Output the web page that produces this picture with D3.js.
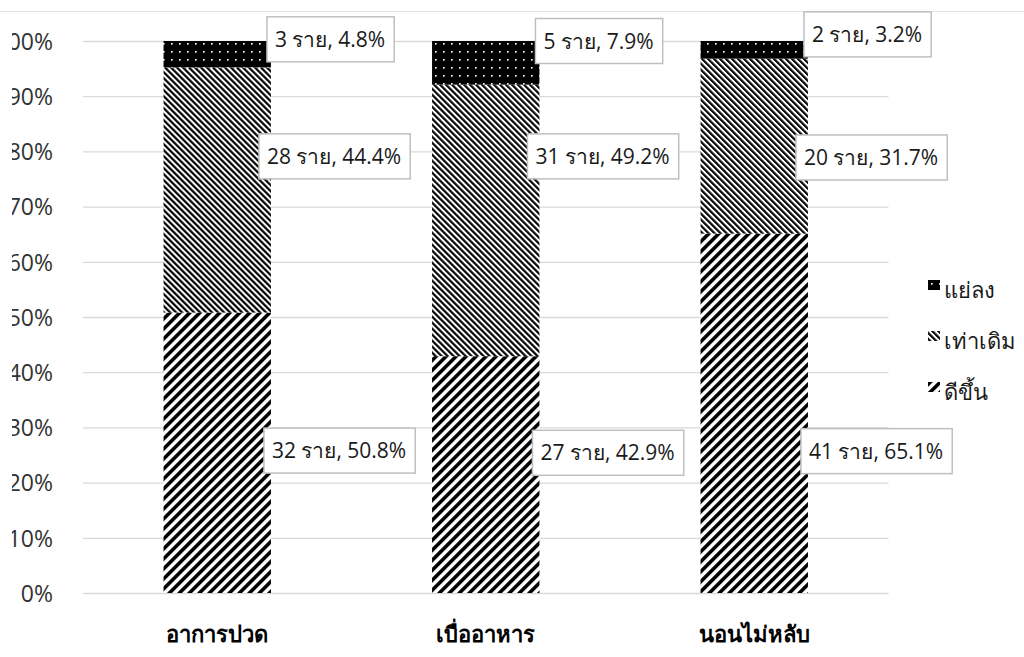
<!DOCTYPE html>
<html><head><meta charset="utf-8">
<script src="https://cdn.jsdelivr.net/npm/d3@7"></script>
<style>body{margin:0;background:#fff} svg{display:block}</style>
</head><body><svg id="c" width="1024" height="657"></svg>
<script>
// ---- data ----
const categories = ["อาการปวด", "เบื่ออาหาร", "นอนไม่หลับ"];
const seriesNames = ["ดีขึ้น", "เท่าเดิม", "แย่ลง"];
const betterCount = [32, 27, 41];
const betterPct = [50.8, 42.9, 65.1];
const sameCount = [28, 31, 20];
const samePct = [44.4, 49.2, 31.7];
const worseCount = [3, 5, 2];
const worsePct = [4.8, 7.9, 3.2];
const yTicks = [0, 10, 20, 30, 40, 50, 60, 70, 80, 90, 100];
const unitWord = "ราย";
// label anchor values (in % units, where each label box is centred)
const anchorBetter = [25.8, 25.4, 25.7];
const anchorSame = [79.1, 79.1, 78.9];
const anchorWorse = [100.3, 100.0, 101.2];

// ---- layout ----
const W = 1024, H = 657;
const plotL = 83, plotR = 888.5, plotT = 41, plotB = 593;
const FONT = "'Open Sans','Noto Sans','DejaVu Sans',sans-serif";

const svg = d3.select("#c");
const defs = svg.append("defs");

// patterns
function stripe(id, angle, period, thick) {
  const p = defs.append("pattern").attr("id", id).attr("patternUnits", "userSpaceOnUse")
    .attr("width", period).attr("height", period).attr("patternTransform", `rotate(${angle})`);
  p.append("rect").attr("width", period).attr("height", period).attr("fill", "#fff");
  p.append("rect").attr("width", thick).attr("height", period).attr("fill", "#000");
}
stripe("pBetter", 45, 7.07, 3.6);
stripe("pSame", -45, 4.24, 2.2);
const pd = defs.append("pattern").attr("id", "pWorse").attr("patternUnits", "userSpaceOnUse")
  .attr("width", 8).attr("height", 8);
pd.append("rect").attr("width", 8).attr("height", 8).attr("fill", "#000");
pd.append("rect").attr("x", 3).attr("y", 3).attr("width", 1.6).attr("height", 1.6).attr("fill", "#fff");

defs.append("clipPath").attr("id", "axClip").append("rect")
  .attr("x", 12).attr("y", 0).attr("width", W).attr("height", H);

const fills = ["url(#pBetter)", "url(#pSame)", "url(#pWorse)"];

// top frame line
svg.append("line").attr("x1", 0).attr("x2", W).attr("y1", 11.5).attr("y2", 11.5)
  .attr("stroke", "#e3e3e3").attr("stroke-width", 1);

const x = d3.scaleBand().domain(categories).range([plotL, plotR]).paddingInner(0.6).paddingOuter(0.3);
const y = d3.scaleLinear().domain([0, 100]).range([plotB, plotT]);

// gridlines
const grid = svg.append("g").attr("transform", `translate(${plotL},0)`)
  .call(d3.axisLeft(y).tickValues(yTicks).tickSize(-(plotR - plotL)).tickFormat(""));
grid.select(".domain").remove();
grid.selectAll("line").attr("stroke", "#d9d9d9").attr("stroke-width", 1.3);

// y labels
const yax = svg.append("g").attr("clip-path", "url(#axClip)").append("g")
  .attr("transform", `translate(${plotL},0)`)
  .call(d3.axisLeft(y).tickValues(yTicks).tickSize(0).tickPadding(30).tickFormat(d => d + "%"));
yax.select(".domain").remove();
yax.selectAll("text").attr("font-family", FONT).attr("font-size", 23).attr("fill", "#333")
  .attr("dy", "0.36em");

// stacked data
const tbl = categories.map((c, i) => ({
  cat: c,
  [seriesNames[0]]: betterPct[i], [seriesNames[1]]: samePct[i], [seriesNames[2]]: worsePct[i]
}));
const stack = d3.stack().keys(seriesNames)(tbl);
const counts = [betterCount, sameCount, worseCount];
const pcts = [betterPct, samePct, worsePct];
const anchors = [anchorBetter, anchorSame, anchorWorse];
const labelDx = [-7, -12, -4];

const bars = svg.append("g");
stack.forEach((s, si) => {
  bars.selectAll(null).data(s).enter().append("rect")
    .attr("x", d => x(d.data.cat))
    .attr("width", x.bandwidth())
    .attr("y", d => y(d[1]))
    .attr("height", d => y(d[0]) - y(d[1]))
    .attr("fill", fills[si]);
});

// data labels
const lab = svg.append("g");
stack.forEach((s, si) => {
  s.forEach((d, ci) => {
    const txt = `${counts[si][ci]} ${unitWord}, ${pcts[si][ci].toFixed(1)}%`;
    const g = lab.append("g");
    const left = x(d.data.cat) + x.bandwidth() + labelDx[si];
    const cy = y(anchors[si][ci]);
    const rect = g.append("rect").attr("fill", "#fff").attr("stroke", "#bfbfbf").attr("stroke-width", 1.5);
    const t = g.append("text").attr("font-family", FONT).attr("font-size", 21).attr("fill", "#1a1a1a")
      .attr("x", left + 8).attr("y", cy).attr("dy", "0.36em").text(txt);
    const w = t.node().getComputedTextLength();
    rect.attr("x", left).attr("y", cy - 22.5).attr("width", w + 17).attr("height", 45);
  });
});

// x labels
svg.append("g").selectAll("text").data(categories).enter().append("text")
  .attr("x", d => x(d) + x.bandwidth() / 2).attr("y", 642)
  .attr("text-anchor", "middle").attr("font-family", FONT).attr("font-size", 22)
  .attr("font-weight", "bold").attr("fill", "#000").text(d => d);

// legend
const legOrder = [2, 1, 0];
const leg = svg.append("g");
legOrder.forEach((si, k) => {
  const cy = 285 + k * 51;
  leg.append("rect").attr("x", 928).attr("y", cy - 5).attr("width", 12).attr("height", 10).attr("fill", fills[si]);
  leg.append("text").attr("x", 944).attr("y", cy + 5).attr("dy", "0.36em")
    .attr("font-family", FONT).attr("font-size", 22).attr("fill", "#1a1a1a").text(seriesNames[si]);
});
</script></body></html>
